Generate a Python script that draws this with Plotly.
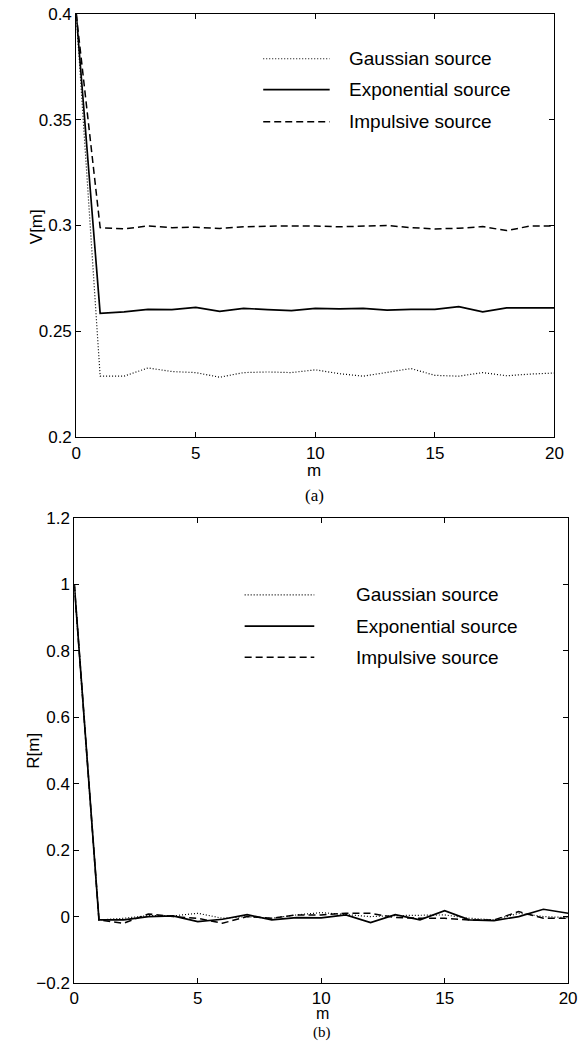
import plotly.graph_objects as go

m = list(range(21))

# V[m] (plot a)
v_gauss = [0.4, 0.2288, 0.2288, 0.2327, 0.2310, 0.2305, 0.2283, 0.2305, 0.2308, 0.2305, 0.2318,
           0.2300, 0.2288, 0.2305, 0.2324, 0.2292, 0.2288, 0.2305, 0.2290, 0.2298, 0.2303]
v_expo = [0.4, 0.2585, 0.2592, 0.2604, 0.2603, 0.2613, 0.2594, 0.2608, 0.2603, 0.2598, 0.2608,
          0.2606, 0.2608, 0.2600, 0.2604, 0.2604, 0.2617, 0.2592, 0.2611, 0.2611, 0.2611]
v_imp = [0.4, 0.2990, 0.2984, 0.2998, 0.2990, 0.2992, 0.2986, 0.2994, 0.2997, 0.2998, 0.2998,
         0.2994, 0.2997, 0.3000, 0.2990, 0.2984, 0.2987, 0.2995, 0.2976, 0.2998, 0.2998]

# R[m] (plot b)
r_gauss = [1.0, -0.010, -0.005, 0.003, 0.002, 0.010, -0.005, 0.000, -0.005, 0.005, 0.012,
           0.005, 0.000, 0.003, 0.005, 0.005, -0.005, -0.010, 0.010, 0.000, -0.003]
r_expo = [1.0, -0.010, -0.010, 0.000, 0.002, -0.015, -0.008, 0.006, -0.010, -0.003, -0.004,
          0.005, -0.018, 0.006, -0.010, 0.018, -0.010, -0.012, 0.000, 0.022, 0.010]
r_imp = [1.0, -0.010, -0.020, 0.008, 0.000, -0.005, -0.020, 0.000, -0.005, 0.005, 0.005,
         0.010, 0.010, -0.003, -0.005, -0.005, -0.010, -0.010, 0.015, -0.005, -0.005]

names = ["Gaussian source", "Exponential source", "Impulsive source"]
dashes = ["1px,2px", "solid", "7px,4px"]
widths = [1.2, 1.7, 1.5]

W, H = 581, 1052
fnt = "Liberation Sans, Arial, sans-serif"
serif = "Liberation Serif, Times New Roman, serif"

fig = go.Figure()
for ys, xa, ya in [((v_gauss, v_expo, v_imp), "x", "y"), ((r_gauss, r_expo, r_imp), "x2", "y2")]:
    for y, nm, d, w in zip(ys, names, dashes, widths):
        fig.add_trace(go.Scatter(x=m, y=y, mode="lines", name=nm, showlegend=False,
                                 line=dict(color="black", dash=d, width=w),
                                 xaxis=xa, yaxis=ya))

ax = dict(showline=True, linecolor="black", linewidth=1, mirror="allticks", ticks="inside",
          ticklen=5, tickcolor="black", showgrid=False, zeroline=False,
          tickfont=dict(family=fnt, size=17, color="black"))

fig.update_layout(
    width=W, height=H, margin=dict(l=0, r=0, t=0, b=0),
    paper_bgcolor="white", plot_bgcolor="white", showlegend=False,
    xaxis=dict(ax, domain=[73/W, 563/W], range=[0, 20], tickvals=[0, 5, 10, 15, 20], anchor="y"),
    yaxis=dict(ax, domain=[1-436/H, 1-5/H], range=[0.2, 0.4], dtick=0.05, anchor="x"),
    xaxis2=dict(ax, domain=[71/W, 577/W], range=[0, 20], tickvals=[0, 5, 10, 15, 20], anchor="y2"),
    yaxis2=dict(ax, domain=[1-992/H, 1-518/H], range=[-0.2, 1.2], dtick=0.2, anchor="x2"),
)

# legends drawn without box, MATLAB style
leg = [("x", "y", [0.894, 0.821, 0.745], 0.391, 0.530, 0.566),
       ("x2", "y2", [0.834, 0.767, 0.700], 0.345, 0.486, 0.566)]
for xa, ya, ypos, x0, x1, xt in leg:
    xd, yd = xa + " domain", ya + " domain"
    for yy, nm, d, w in zip(ypos, names, dashes, widths):
        fig.add_shape(type="line", xref=xd, yref=yd, x0=x0, x1=x1, y0=yy, y1=yy,
                      line=dict(color="black", dash=d, width=w))
        fig.add_annotation(xref=xd, yref=yd, x=xt, y=yy, text=nm, showarrow=False,
                           xanchor="left", yanchor="middle",
                           font=dict(family=fnt, size=19, color="black"))

labels = [
    dict(x=317/W, y=1-470/H, text="m"),
    dict(x=317/W, y=1-495/H, text="(a)", font=dict(family=serif, size=17, color="black")),
    dict(x=325/W, y=1-1023/H, text="m", font=dict(family=fnt, size=16, color="black")),
    dict(x=325/W, y=1-1042/H, text="(b)", font=dict(family=serif, size=15, color="black")),
    dict(x=33/W, y=1-222/H, text="V[m]", textangle=-90),
    dict(x=29/W, y=1-755/H, text="R[m]", textangle=-90),
]
for a in labels:
    a.setdefault("font", dict(family=fnt, size=17, color="black"))
    fig.add_annotation(xref="paper", yref="paper", showarrow=False,
                       xanchor="center", yanchor="middle", **a)

fig.write_html("out.html", config={"displayModeBar": False},
               post_script="document.body.style.margin='0';")
